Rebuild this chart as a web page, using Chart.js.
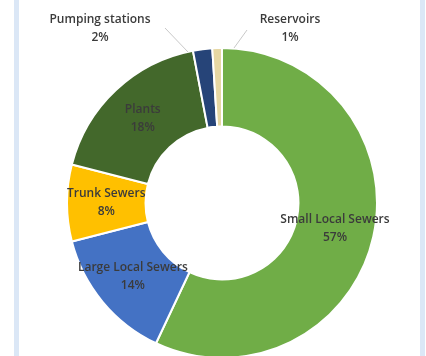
<!DOCTYPE html>
<html>
<head>
<meta charset="utf-8">
<script src="https://cdn.jsdelivr.net/npm/chart.js@4.4.1/dist/chart.umd.min.js"></script>
<style>
    html, body { margin: 0; padding: 0; background: #fff; overflow: hidden; }
    #wrap { position: relative; width: 426px; height: 356px; overflow: hidden; }
    #wrap canvas { position: absolute; left: 0; top: 0; }
    .frame { position: absolute; top: 0; bottom: 0; width: 5px; background: #dbe7f6; }
</style>
</head>
<body>
<div id="wrap">
    <canvas id="chart" width="426" height="358"></canvas>
    <div class="frame" style="left: 14px;"></div>
    <div class="frame" style="left: 420px;"></div>
</div>
<script>
const categories = ['Small Local Sewers', 'Large Local Sewers', 'Trunk Sewers', 'Plants', 'Pumping stations', 'Reservoirs'];
const shares = [57, 14, 8, 18, 2, 1];
const sliceColors = ['#70ad47', '#4472c4', '#ffc000', '#43682b', '#264478', '#e6d7a3'];

// outside labels (offset from chart centre), the rest sit mid-ring
const outsideLabels = {
    4: { dx: -122, dy: -174, lineFrom: [-57, -175], lineTo: [-34, -151] },
    5: { dx: 68, dy: -174, lineFrom: [25, -173], lineTo: [12, -155] }
};

const labelPlugin = {
    id: 'sliceLabels',
    afterDatasetsDraw(chart) {
        const ctx = chart.ctx;
        const meta = chart.getDatasetMeta(0);
        const total = shares.reduce((a, b) => a + b, 0);
        ctx.save();
        ctx.font = '600 12px "Open Sans"';
        ctx.fillStyle = '#3b3b3b';
        ctx.textAlign = 'center';
        ctx.textBaseline = 'middle';

        meta.data.forEach((arc, i) => {
            const p = arc.getProps(['x', 'y', 'startAngle', 'endAngle', 'innerRadius', 'outerRadius'], true);
            const pct = Math.round(shares[i] / total * 100) + '%';
            let lx, ly;
            const out = outsideLabels[i];
            if (out) {
                lx = p.x + out.dx;
                ly = p.y + out.dy;
                ctx.strokeStyle = '#c8c8c8';
                ctx.lineWidth = 1;
                ctx.beginPath();
                ctx.moveTo(p.x + out.lineFrom[0], p.y + out.lineFrom[1]);
                ctx.lineTo(p.x + out.lineTo[0], p.y + out.lineTo[1]);
                ctx.stroke();
            } else {
                const mid = (p.startAngle + p.endAngle) / 2;
                const r = (p.innerRadius + p.outerRadius) / 2;
                lx = p.x + Math.cos(mid) * r;
                ly = p.y + Math.sin(mid) * r;
            }
            ctx.fillText(categories[i], lx, ly - 9);
            ctx.fillText(pct, lx, ly + 9);
        });
        ctx.restore();
    }
};

new Chart(document.getElementById('chart'), {
    type: 'doughnut',
    data: {
        labels: categories,
        datasets: [{
            data: shares,
            backgroundColor: sliceColors,
            borderColor: '#ffffff',
            borderWidth: 2,
            hoverOffset: 0
        }]
    },
    options: {
        responsive: false,
        animation: false,
        radius: 155,
        cutout: 76,
        layout: { padding: { top: 48, left: 18 } },
        plugins: {
            legend: { display: false },
            tooltip: { enabled: false }
        }
    },
    plugins: [labelPlugin]
});
</script>
</body>
</html>
